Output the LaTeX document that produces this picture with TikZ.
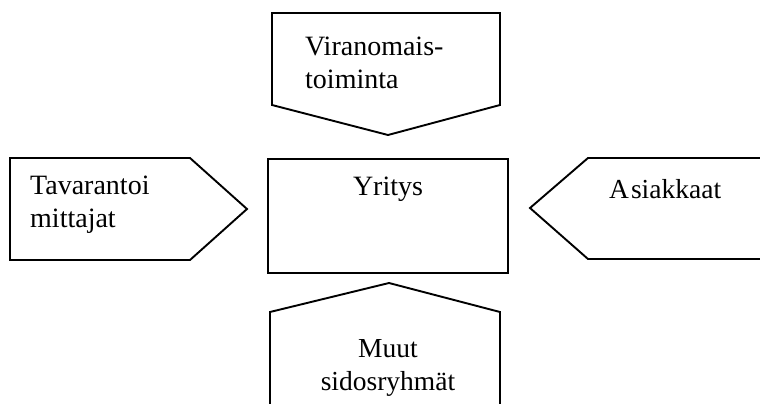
\documentclass[tikz,border=0pt]{standalone}
\usepackage{fontspec}
\setmainfont{Liberation Serif}
\begin{document}
\begin{tikzpicture}[x=1pt,y=-1pt,
  shapeline/.style={draw=black,line width=1.9pt,line join=miter},
  lbl/.style={font=\fontsize{28}{33}\selectfont,inner sep=0pt,align=left},
  lblc/.style={font=\fontsize{27.5}{33}\selectfont,inner sep=0pt,align=center}]
\useasboundingbox (0,0) rectangle (760,404);
\clip (0,0) rectangle (760,404);
\fill[white] (0,0) rectangle (760,404);
% top pentagon
\draw[shapeline] (272,13) -- (500,13) -- (500,105) -- (388,135) -- (272,105) -- cycle;
% left pentagon
\draw[shapeline] (10,158) -- (190,158) -- (247,209) -- (190,260) -- (10,260) -- cycle;
% centre box
\draw[shapeline] (268,159) rectangle (508,273);
% right pentagon (cut by the right edge)
\draw[shapeline] (780,158) -- (588,158) -- (530,208) -- (588,259) -- (780,259);
% bottom pentagon (cut by the bottom edge)
\draw[shapeline] (270,420) -- (270,312) -- (389,283) -- (500,312) -- (500,420);
% texts
\node[lbl,anchor=west] (viran) at (305,63) {Viranomais-\\toiminta};
\node[lbl,anchor=west] (tavar) at (30,205) {Tavarantoi\\mittajat};
\node[lbl,anchor=center] (yritys) at (388,189) {Yritys};
\node[lblc,anchor=west] (asiak) at (609,189) {A\kern2pt siakkaat};
\node[lblc,anchor=center] (muut) at (388,368) {Muut\\sidosryhmät};
\end{tikzpicture}
\end{document}
